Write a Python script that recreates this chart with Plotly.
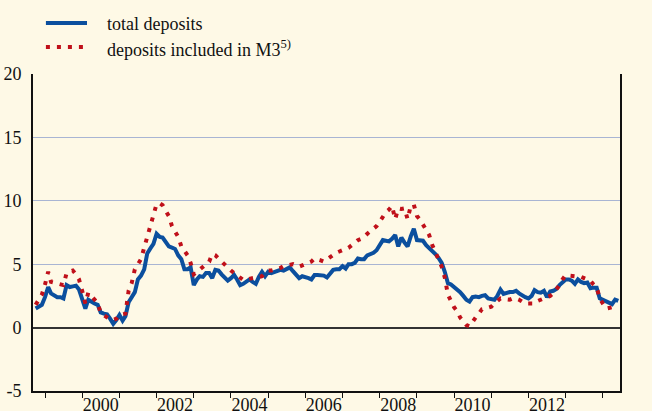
import pandas as pd
import plotly.graph_objects as go

# Monthly annual growth rates (%), October 1998 to June 2014
months = pd.date_range("1998-10-01", periods=189, freq="MS")

total_deposits = [
    1.5, 1.7, 1.8, 2.4, 3.2, 2.7, 2.5, 2.4, 2.4, 2.3,
    3.35, 3.2, 3.25, 3.3, 3.0, 2.2, 1.5, 2.2, 2.0, 1.9,
    1.8, 1.2, 1.1, 1.05, 0.7, 0.3, 0.6, 1.0, 0.55, 0.9,
    2.0, 2.4, 2.8, 3.8, 4.1, 4.6, 5.85, 6.25, 6.6, 7.4,
    7.15, 7.1, 6.8, 6.4, 6.3, 6.2, 5.7, 5.4, 4.6, 4.6,
    4.75, 3.35, 3.8, 4.05, 4.0, 4.3, 4.3, 3.9, 4.55, 4.5,
    4.2, 3.9, 3.7, 3.9, 4.15, 3.8, 3.35, 3.45, 3.6, 3.8,
    3.6, 3.45, 4.0, 4.4, 4.05, 4.4, 4.3, 4.4, 4.5, 4.55,
    4.5, 4.6, 4.75, 4.45, 4.2, 3.9, 4.05, 4.0, 3.9, 3.8,
    4.15, 4.15, 4.15, 4.1, 3.95, 4.3, 4.55, 4.6, 4.6, 4.85,
    4.65, 5.0, 5.0, 5.1, 5.45, 5.4, 5.4, 5.7, 5.8, 5.9,
    6.1, 6.5, 6.9, 6.85, 6.8, 7.0, 7.3, 6.4, 7.1, 6.7,
    6.4, 7.2, 7.8, 6.9, 6.85, 6.85, 6.5, 6.3, 6.0, 5.8,
    5.5, 5.1, 4.4, 3.5, 3.4, 3.2, 3.0, 2.8, 2.5, 2.2,
    2.05, 2.4, 2.45, 2.4, 2.5, 2.55, 2.3, 2.25, 2.2, 2.5,
    3.0, 2.65, 2.75, 2.8, 2.8, 2.9, 2.7, 2.5, 2.4, 2.3,
    2.5, 2.95, 2.8, 2.75, 2.9, 2.4, 2.85, 2.9, 3.05, 3.35,
    3.6, 3.8, 3.8, 3.7, 3.45, 3.8, 3.6, 3.5, 3.55, 3.1,
    3.15, 3.15, 2.3, 2.2, 2.05, 1.95, 1.85, 2.2, 2.1,
]

deposits_m3 = [
    1.8, 2.2, 2.6, 3.4, 4.4, 3.6, 3.55, 3.5, 3.4, 3.35,
    4.3, 4.4, 4.5, 4.2, 3.8, 2.9, 1.9, 2.75, 2.5, 2.2,
    1.95, 1.15, 1.0, 0.8, 0.65, 0.6, 0.7, 1.0, 1.05, 1.1,
    2.9, 3.5, 4.6, 5.0, 5.4, 6.3, 7.15, 8.0, 8.9, 9.75,
    9.8, 9.65, 9.2, 8.8, 8.0, 7.6, 7.15, 6.4, 6.0, 5.7,
    5.1, 4.2, 4.4, 4.6, 4.85, 5.0, 5.2, 5.8, 5.7, 5.45,
    5.2, 5.0, 4.8, 4.5, 4.3, 4.1, 3.9, 3.75, 3.8, 3.85,
    3.9, 3.9, 4.0, 4.05, 4.3, 4.5, 4.5, 4.55, 4.6, 4.7,
    4.85, 4.9, 4.95, 5.0, 4.9, 4.8, 4.9, 5.0, 5.1, 5.2,
    5.45, 5.4, 5.3, 5.2, 5.4, 5.6, 5.8, 5.9, 6.0, 6.1,
    6.2, 6.3, 6.5, 6.7, 6.9, 7.0, 7.15, 7.4, 7.6, 7.75,
    8.0, 8.35, 8.7, 9.1, 9.3, 9.6, 8.55, 9.4, 9.35, 9.4,
    8.55, 9.6, 9.7, 8.8, 8.5, 8.15, 7.7, 7.3, 6.5, 5.9,
    5.4, 4.8, 3.95, 2.6, 2.1, 1.6, 1.3, 0.8, 0.5, 0.2,
    0.1, 0.5, 0.8, 1.1, 1.45, 1.5, 1.6, 1.65, 1.9, 2.1,
    2.3, 2.25, 2.2, 2.2, 2.3, 2.3, 2.2, 2.0, 1.9, 1.9,
    1.9, 1.9, 2.1, 2.2, 2.3, 2.4, 2.5, 2.7, 3.0, 3.35,
    3.8, 4.15, 4.1, 4.1, 4.05, 4.0, 4.0, 3.9, 3.8, 3.7,
    3.4, 3.15, 2.3, 1.9, 1.5, 1.55, 1.6, 1.6, 1.7,
]

y_ticks = [-5, 0, 5, 10, 15, 20]
y_tick_text = ["-5", "0", "5", "10", "15", "20"]
year_labels = [2000, 2002, 2004, 2006, 2008, 2010, 2012]
year_bounds = list(range(1999, 2015))

BLUE = "#0b4f9e"
RED = "#c0101a"
BG = "#fef9e6"
GRID = "#a9b5d3"
FONT = "Liberation Serif"

fig = go.Figure()
fig.add_trace(go.Scatter(
    x=months, y=total_deposits, mode="lines", name="total deposits",
    line=dict(color=BLUE, width=4), showlegend=False, hoverinfo="skip",
))
fig.add_trace(go.Scatter(
    x=months, y=deposits_m3, mode="lines", name="deposits included in M3",
    line=dict(color=RED, width=4, dash="4px,7px"), showlegend=False,
    hoverinfo="skip",
))

# Legend drawn above the plot area
legend_rows = [
    (1.161, BLUE, "solid", "total deposits"),
    (1.085, RED, "4px,7px", "deposits included in M3<sup>5)</sup>"),
]
for y, color, dash, label in legend_rows:
    fig.add_shape(type="line", xref="paper", yref="paper",
                  x0=0.022, x1=0.092, y0=y, y1=y,
                  line=dict(color=color, width=4, dash=dash))
    fig.add_annotation(xref="paper", yref="paper", x=0.123, y=y - 0.004,
                       text=label, showarrow=False, xanchor="left",
                       yanchor="middle",
                       font=dict(family=FONT, size=18, color="#111"))

fig.update_layout(
    width=652, height=411,
    margin=dict(l=33, r=32, t=74, b=20, autoexpand=False),
    paper_bgcolor=BG, plot_bgcolor=BG,
    font=dict(family=FONT, size=18, color="#111"),
    showlegend=False,
    xaxis=dict(
        type="date", automargin=False,
        range=["1998-09-05", "2014-06-18"],
        tickmode="array",
        tickvals=[f"{y}-07-01" for y in year_labels],
        ticktext=[str(y) for y in year_labels],
        ticks="", ticklabelstandoff=-4,
        showgrid=False, zeroline=False,
        showline=True, linecolor="#111", linewidth=2,
        minor=dict(tickmode="array",
                   tickvals=[f"{y}-01-01" for y in year_bounds],
                   ticks="outside", ticklen=5, tickwidth=1,
                   tickcolor="#111", showgrid=False),
    ),
    yaxis=dict(
        range=[-5, 20], tickmode="array", tickvals=y_ticks,
        ticktext=y_tick_text, automargin=False,
        ticks="", ticklabelstandoff=6,
        showgrid=True, gridcolor=GRID, gridwidth=1,
        zeroline=True, zerolinecolor="#333", zerolinewidth=2,
        showline=True, linecolor="#111", linewidth=2, mirror=True,
    ),
    yaxis2=dict(
        range=[-5, 20], tickmode="array", tickvals=y_ticks,
        ticktext=y_tick_text, automargin=False,
        overlaying="y", side="right", ticks="", ticklabelstandoff=12,
        showgrid=False, zeroline=False, showline=False,
    ),
)

fig.write_html("out.html")
